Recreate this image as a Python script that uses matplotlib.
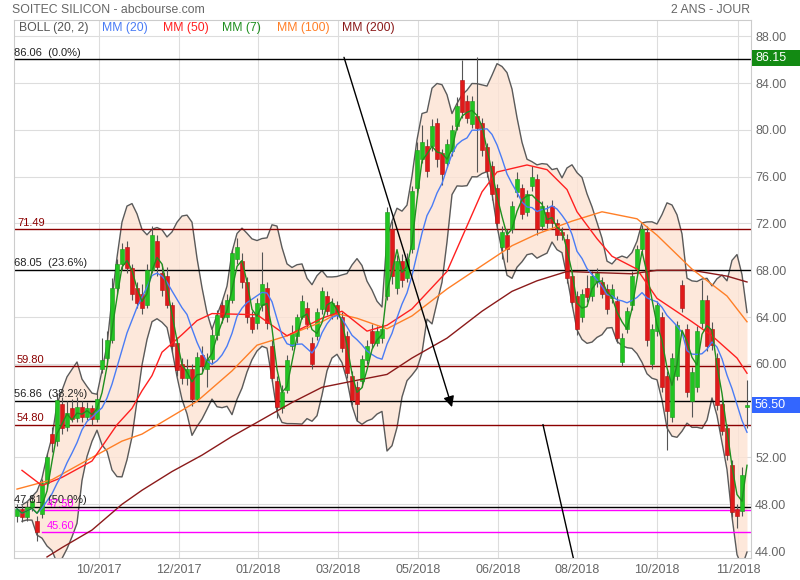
import numpy as np
import pandas as pd
import matplotlib
matplotlib.use('Agg')
import matplotlib.pyplot as plt
import matplotlib.transforms as mtransforms
from matplotlib.patches import Rectangle

plt.rcParams['font.family'] = ['Liberation Sans', 'DejaVu Sans']

# ---------------- data (one candle ~ 2 trading days) ----------------
opens = [47.0, 47.6, 46.9, 47.8, 46.6, 47.2, 49.8, 54.0, 53.4, 56.6, 54.6, 56.2, 55.4, 56.3, 55.5, 56.2, 55.3,
         59.6, 60.5, 62.0, 66.5, 68.5, 70.0, 68.2, 66.5,
         66.0, 65.0, 68.0, 70.5, 67.8, 67.5, 65.0, 61.8, 60.0, 58.8, 59.6, 57.0, 60.8, 59.6, 60.4, 62.5,
         65.0, 64.0, 65.5, 69.0, 68.8, 67.0, 64.0, 63.5,
         65.0, 66.5, 61.5, 58.5, 56.2, 57.8, 61.5, 62.4, 64.0, 64.8, 61.8, 62.4, 64.7, 65.8, 64.2, 65.0,
         64.0, 62.4, 59.0, 58.0, 58.5, 60.3, 62.8, 61.8, 62.2,
         65.8, 71.5, 66.5, 68.8, 67.3, 69.8, 75.0, 77.5, 78.6, 78.6, 80.6, 78.0, 77.2, 78.2, 80.3, 84.3,
         82.5, 80.5, 81.2, 80.6, 78.5, 76.9, 75.0, 70.0, 71.0,
         71.5, 74.7, 75.0, 73.0, 75.2, 75.8, 71.8, 73.0, 73.5, 72.0, 71.3, 70.7, 67.5, 65.8, 64.0, 66.5,
         65.8, 67.0, 67.0, 66.4, 65.6, 65.4, 60.2, 63.0, 65.0,
         68.1, 69.8, 71.3, 60.0, 62.8, 64.0, 59.0, 55.5, 59.0, 66.7, 63.0, 56.8, 58.0, 63.5, 65.5, 63.0,
         60.5, 56.6, 54.5, 51.4, 47.6, 47.4, 56.3]
highs = [48.0, 47.9, 48.2, 48.8, 47.0, 50.2, 52.4, 54.6, 57.5, 57.2, 56.8, 57.0, 57.2, 56.8, 56.7, 56.5, 57.6,
         62.2, 62.8, 67.3, 69.0, 70.3, 70.5, 68.5, 67.0,
         66.8, 68.5, 71.8, 71.0, 68.5, 68.3, 65.3, 62.3, 60.5, 60.4, 60.0, 61.0, 61.5, 60.9, 63.0, 64.6,
         65.5, 66.0, 69.8, 70.8, 69.5, 67.4, 64.5, 65.6,
         69.6, 67.0, 62.0, 59.0, 58.2, 60.8, 63.3, 64.3, 65.9, 65.3, 62.3, 64.8, 66.6, 66.2, 65.6, 65.4,
         64.4, 62.8, 59.4, 58.5, 60.8, 62.0, 63.4, 63.2, 63.4,
         73.4, 72.2, 69.3, 69.4, 69.5, 75.2, 79.0, 80.4, 79.2, 80.9, 81.0, 78.4, 79.2, 80.4, 82.8, 86.0,
         83.0, 82.9, 86.2, 81.0, 78.9, 77.3, 75.4, 71.8, 71.5,
         73.9, 76.4, 75.4, 74.9, 76.9, 76.2, 73.9, 73.6, 74.0, 72.4, 71.7, 71.1, 67.9, 66.2, 66.4, 67.6,
         67.9, 68.2, 67.4, 66.8, 66.8, 65.8, 62.6, 64.9, 67.9,
         70.2, 71.9, 71.8, 63.4, 65.4, 64.4, 59.4, 60.9, 63.7, 67.2, 63.4, 59.7, 63.2, 67.2, 65.9, 63.6,
         60.9, 57.0, 54.9, 51.8, 48.0, 51.2, 58.6]
lows = [46.5, 46.5, 46.6, 47.4, 44.9, 46.8, 49.3, 52.5, 53.0, 54.0, 54.3, 55.0, 55.0, 55.0, 55.2, 54.8, 55.0,
        59.2, 60.0, 61.8, 66.0, 68.0, 67.8, 65.5, 64.8,
        64.3, 64.8, 67.8, 67.5, 65.8, 64.8, 61.0, 59.0, 58.3, 58.2, 56.4, 56.8, 59.2, 58.0, 60.0, 62.0,
        63.5, 63.6, 65.2, 68.5, 66.5, 63.5, 62.6, 63.0,
        64.5, 63.0, 58.5, 55.4, 55.8, 57.5, 61.2, 61.8, 63.8, 63.0, 59.6, 62.0, 64.3, 64.2, 63.8, 63.8,
        61.0, 58.8, 56.5, 55.1, 58.0, 60.0, 61.4, 61.5, 61.8,
        65.5, 66.8, 66.0, 66.6, 67.0, 69.5, 74.6, 77.2, 76.0, 78.2, 76.8, 75.3, 76.8, 77.8, 80.0, 81.0,
        80.6, 80.2, 76.4, 77.8, 76.0, 74.0, 71.5, 69.0, 68.7,
        71.2, 74.3, 72.4, 72.6, 74.8, 71.0, 71.4, 71.6, 71.6, 70.6, 70.6, 66.9, 64.9, 62.5, 63.6, 65.3,
        65.4, 66.6, 65.6, 64.3, 65.2, 61.8, 59.8, 62.6, 64.6,
        67.7, 69.4, 61.5, 59.6, 62.4, 57.6, 52.6, 55.0, 58.6, 64.4, 57.2, 55.5, 57.6, 63.1, 61.1, 61.2,
        56.1, 53.9, 51.8, 46.9, 46.0, 47.0, 54.5]
closes = [47.6, 46.9, 47.8, 48.3, 45.6, 49.8, 52.0, 53.2, 56.9, 54.5, 55.8, 55.3, 56.3, 55.5, 56.2, 55.3, 57.0,
          60.3, 62.0, 66.5, 68.5, 69.8, 68.2, 66.0, 65.2,
          64.8, 68.0, 71.0, 68.3, 66.3, 65.0, 61.5, 59.5, 58.8, 59.6, 57.0, 60.6, 59.8, 60.4, 62.5, 64.2,
          64.0, 65.5, 69.5, 70.0, 67.0, 64.0, 63.0, 65.2,
          66.8, 63.5, 58.8, 56.3, 57.6, 60.3, 62.6, 64.0, 65.4, 63.4, 60.0, 64.4, 66.2, 64.5, 65.2, 64.2,
          61.4, 59.2, 56.9, 56.6, 60.4, 61.5, 61.8, 62.8, 63.0,
          73.0, 67.5, 68.8, 67.2, 69.0, 74.8, 78.3, 79.0, 76.5, 80.3, 77.5, 76.2, 78.8, 80.0, 82.0, 81.5,
          81.0, 82.5, 80.2, 78.3, 76.5, 74.5, 72.0, 71.3, 69.8,
          73.5, 75.8, 72.8, 74.5, 76.0, 71.5, 73.5, 72.0, 72.0, 71.0, 71.0, 67.3, 65.3, 63.0, 66.0, 65.7,
          67.5, 67.8, 66.0, 64.7, 66.4, 62.2, 62.2, 64.5, 67.5,
          69.8, 71.5, 62.0, 63.0, 65.0, 58.0, 56.0, 60.5, 63.3, 64.8, 57.6, 59.3, 62.8, 65.5, 61.5, 61.6,
          56.5, 54.3, 52.2, 47.3, 47.0, 50.5, 56.5]

# long moving averages (candle index, value)
mm50_idx = [1, 5, 9, 15, 20, 23, 25, 27, 29, 33, 36, 39, 48, 54, 61, 65, 70, 74, 79, 86, 93, 96, 102,
            106, 110, 112, 116, 119, 124, 128, 135, 139, 144, 146]
mm50_val = [50.9, 49.6, 50.3, 51.7, 54.8, 56.2, 57.7, 59.0, 61.0, 62.5, 63.7, 64.3, 64.2, 62.4, 63.9,
            64.5, 62.8, 63.3, 64.7, 67.9, 74.7, 76.4, 77.0, 76.6, 74.9, 73.0, 70.7, 69.2, 68.1, 65.6,
            63.6, 62.4, 60.5, 59.2]
mm100_idx = [0, 7, 15, 21, 25, 36, 43, 48, 54, 61, 64, 68, 74, 79, 86, 93, 99, 104, 111, 117, 124,
             128, 135, 142, 146]
mm100_val = [49.3, 50.1, 52.0, 53.4, 54.0, 56.8, 59.4, 61.6, 62.4, 63.6, 64.3, 63.9, 63.0, 64.1, 66.4,
             68.4, 70.1, 71.1, 72.2, 73.0, 72.4, 71.0, 68.1, 65.8, 63.6]
mm200_idx = [6, 9, 15, 21, 25, 31, 37, 43, 48, 55, 61, 68, 74, 79, 86, 93, 99, 104, 110, 116, 123,
             128, 135, 142, 146]
mm200_val = [43.5, 44.3, 45.8, 48.0, 49.2, 50.8, 52.2, 53.8, 55.0, 56.7, 58.0, 58.6, 59.1, 60.5, 62.2,
             64.5, 66.2, 67.1, 67.9, 67.8, 67.7, 68.0, 68.0, 67.5, 67.0]

tick_labels = ['10/2017', '12/2017', '01/2018', '03/2018', '05/2018', '06/2018', '08/2018', '10/2018',
               '11/2018']
tick_pos = [16.4, 32.4, 48.2, 64.2, 80.2, 96.2, 112.0, 128.0, 144.2]
price_ticks = [44, 48, 52, 60, 64, 68, 72, 76, 80, 84, 88]   # 56 is covered by the last-price box

fib_levels = [86.06, 68.05, 56.86, 47.81]
fib_pcts = ['0.0%', '23.6%', '38.2%', '50.0%']
red_levels = [71.49, 59.80, 54.80]
magenta_levels = [47.50, 45.60]
high_price = 86.15
last_price = 56.50

trend1_x, trend1_y = [65.4, 87.0], [86.2, 56.3]
trend2_x, trend2_y = [105.2, 111.8], [54.8, 42.4]

# ---------------- computed indicators ----------------
c = pd.Series(closes)
mm20 = c.rolling(9, min_periods=1).mean()
mm7 = c.rolling(3, min_periods=1).mean()
sd = c.rolling(9, min_periods=2).std(ddof=0)
bb_up = mm20 + 2 * sd
bb_lo = mm20 - 2 * sd

# ---------------- figure ----------------
W, H = 800, 580
fig = plt.figure(figsize=(W / 100, H / 100), dpi=100)
ax = fig.add_axes([14 / W, 1 - 558 / H, 737 / W, 538 / H])
ax.set_xlim(-0.6, 146.8)
ax.set_ylim(43.41, 89.39)

ax.set_axisbelow(True)
ax.grid(True, color='#dddddd', lw=0.8)
for s in ax.spines.values():
    s.set_color('#cccccc')
    s.set_linewidth(0.8)

ax.yaxis.tick_right()
ax.set_yticks(price_ticks)
ax.yaxis.set_major_formatter(matplotlib.ticker.FormatStrFormatter('%.2f'))
ax.tick_params(axis='y', length=0, pad=3, labelcolor='#666666', labelsize=9)
ax.set_xticks(tick_pos)
ax.set_xticklabels(tick_labels)
ax.tick_params(axis='x', length=0, pad=4, labelcolor='#666666', labelsize=9)

x = np.arange(len(closes))

# Bollinger band
ax.fill_between(x, bb_lo, bb_up, color='#fde3d3', alpha=0.8, lw=0, zorder=1)
ax.plot(x, bb_up, color='#5a5a5a', lw=1.0, zorder=2)
ax.plot(x, bb_lo, color='#5a5a5a', lw=1.0, zorder=2)

# horizontal levels
for lv, pct in zip(fib_levels, fib_pcts):
    ax.axhline(lv, color='black', lw=1.0, zorder=2.5)
    ax.annotate(f'{lv:.2f}  ({pct})', xy=(0.0, lv), xycoords=('axes fraction', 'data'),
                xytext=(0, 1), textcoords='offset points', ha='left', va='bottom',
                fontsize=8, color='#222222', zorder=6)
for lv in red_levels:
    ax.axhline(lv, color='#8b0000', lw=1.0, zorder=2.5)
    ax.annotate(f'{lv:.2f}', xy=(0.004, lv), xycoords=('axes fraction', 'data'),
                xytext=(0, 1), textcoords='offset points', ha='left', va='bottom',
                fontsize=8, color='#8b0000', zorder=6)
for lv in magenta_levels:
    ax.plot([5, 146.8], [lv, lv], color='#ff00ff', lw=1.0, zorder=2.5)
    ax.annotate(f'{lv:.2f}', xy=(0.045, lv), xycoords=('axes fraction', 'data'),
                xytext=(0, 1), textcoords='offset points', ha='left', va='bottom',
                fontsize=8, color='#ff00ff', zorder=6)

# candles
o = np.array(opens); cl = np.array(closes)
up = cl >= o
ax.vlines(x, lows, highs, color='#555555', lw=0.8, zorder=3)
body_h = np.maximum(np.abs(cl - o), 0.12)
ax.bar(x, body_h, bottom=np.minimum(o, cl), width=0.62,
       color=np.where(up, '#22c422', '#e01a1a'), edgecolor=np.where(up, '#1a9a1a', '#b01010'),
       lw=0.4, zorder=3.5)

# moving averages
ax.plot(mm200_idx, mm200_val, color='#8b1a1a', lw=1.0, zorder=4)
ax.plot(mm100_idx, mm100_val, color='#ff7f27', lw=1.0, zorder=4)
ax.plot(mm50_idx, mm50_val, color='#ff2020', lw=1.0, zorder=4)
ax.plot(x, mm20, color='#4a7cf5', lw=1.0, zorder=4)
ax.plot(x, mm7, color='#1f8f1f', lw=1.0, zorder=4.2)

# trend lines
ax.annotate('', xy=(trend1_x[1], trend1_y[1]), xytext=(trend1_x[0], trend1_y[0]),
            arrowprops=dict(arrowstyle='-|>', color='black', lw=1.0, mutation_scale=16,
                            shrinkA=0, shrinkB=0), zorder=5)
ax.plot(trend2_x, trend2_y, color='black', lw=1.0, zorder=5)

# price boxes on the right
blend = mtransforms.blended_transform_factory(fig.transFigure, ax.transData)
for val, col in [(high_price, '#138a13'), (last_price, '#3366ff')]:
    fig.patches.append(Rectangle((752 / W, val - 0.68), 48 / W, 1.36, transform=blend,
                                 facecolor=col, edgecolor='none', zorder=10))
    fig.text(755 / W, val, f'{val:.2f}', transform=blend, ha='left', va='center',
             fontsize=9, color='white', zorder=11)

# header texts
fig.text(12 / W, 1 - 10 / H, 'SOITEC SILICON - abcbourse.com', ha='left', va='center',
         fontsize=8.8, color='#666666')
fig.text(750 / W, 1 - 10 / H, '2 ANS - JOUR', ha='right', va='center', fontsize=8.8, color='#666666')
legend_items = [('BOLL (20, 2)', '#555555', 19), ('MM (20)', '#4a7cf5', 102), ('MM (50)', '#ff2020', 163),
                ('MM (7)', '#1f8f1f', 222), ('MM (100)', '#ff7f27', 277), ('MM (200)', '#8b1a1a', 342)]
for txt, col, px in legend_items:
    fig.text(px / W, 1 - 28 / H, txt, ha='left', va='center', fontsize=8.8, color=col)

fig.savefig('out.png', dpi=100)
